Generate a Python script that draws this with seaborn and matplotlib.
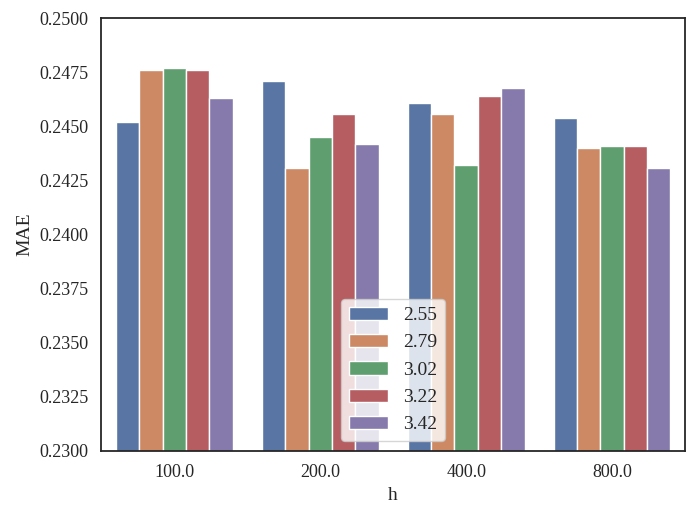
import pandas as pd
import matplotlib
matplotlib.use('Agg')
import matplotlib.pyplot as plt
import seaborn as sns

# values
h_values = [100.0, 200.0, 400.0, 800.0]
hue_labels = ['2.55', '2.79', '3.02', '3.22', '3.42']
mae_2_55 = [0.2452, 0.2471, 0.2461, 0.2454]
mae_2_79 = [0.2476, 0.2431, 0.2456, 0.2440]
mae_3_02 = [0.2477, 0.2445, 0.2432, 0.2441]
mae_3_22 = [0.2476, 0.2456, 0.2464, 0.2441]
mae_3_42 = [0.2463, 0.2442, 0.2468, 0.2431]

series = [mae_2_55, mae_2_79, mae_3_02, mae_3_22, mae_3_42]
rows = []
for label, vals in zip(hue_labels, series):
    for h, v in zip(h_values, vals):
        rows.append({'h': h, 'MAE': v, 'group': label})
df = pd.DataFrame(rows)

sns.set_theme(style='white')
plt.rcParams['font.family'] = ['Liberation Serif', 'DejaVu Serif']
plt.rcParams['font.size'] = 13

fig = plt.figure(figsize=(6.99, 5.25), dpi=100)
ax = fig.add_axes([0.145, 0.141, 0.835, 0.824])
sns.barplot(data=df, x='h', y='MAE', hue='group', hue_order=hue_labels,
            palette='deep', ax=ax, edgecolor='white', linewidth=1)
ax.set_ylim(0.2300, 0.2500)
ax.set_yticks([0.2300 + 0.0025 * i for i in range(9)])
ax.set_yticklabels([f'{0.2300 + 0.0025 * i:.4f}' for i in range(9)])
ax.set_xlabel('h', fontsize=14)
ax.set_ylabel('MAE', fontsize=14)
ax.tick_params(labelsize=13)
for s in ax.spines.values():
    s.set_linewidth(1.3)
ax.legend(loc='lower center', fontsize=14, title=None)
fig.savefig('out.png', dpi=100)
